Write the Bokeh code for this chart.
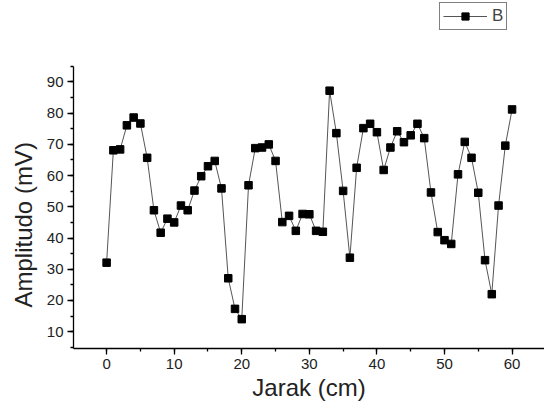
from bokeh.plotting import figure
from bokeh.models import Range1d, SingleIntervalTicker, Legend, LegendItem, Title
from bokeh.embed import file_html
from bokeh.resources import INLINE

# Data
jarak = list(range(0, 61))
amplitudo = [32.1, 68.1, 68.4, 76.1, 78.6, 76.7, 65.7, 48.9, 41.7, 46.2,
             45.0, 50.4, 48.9, 55.2, 59.8, 63.0, 64.7, 55.9, 27.1, 17.3,
             14.0, 56.9, 68.8, 69.0, 70.0, 64.7, 45.1, 47.1, 42.3, 47.7,
             47.6, 42.3, 42.0, 87.2, 73.6, 55.1, 33.7, 62.5, 75.2, 76.6,
             73.9, 61.8, 69.0, 74.2, 70.7, 72.9, 76.6, 72.0, 54.6, 41.9,
             39.3, 38.1, 60.4, 70.8, 65.7, 54.5, 32.9, 22.0, 50.4, 69.6,
             81.2]
series_name = "B"
x_title = "Jarak (cm)"
y_title = "Amplitudo (mV)"

FONT = "Liberation Sans"

# frame reaches the top of the canvas so the legend (drawn inside the frame)
# can sit above the end of the y axis; the y axis is limited with bounds
p = figure(width=544, height=403, output_backend="svg", toolbar_location=None,
           x_range=Range1d(-4.9, 64.8), y_range=Range1d(4.6, 116.1),
           min_border_left=73, min_border_top=0, min_border_right=0,
           min_border_bottom=54)
p.outline_line_color = None
p.xgrid.visible = False
p.ygrid.visible = False

ln = p.line(jarak, amplitudo, line_color="#555555", line_width=1)
sc = p.scatter(jarak, amplitudo, marker="square", size=7.5,
               fill_color="black", line_color="black")

for ax in (p.xaxis[0], p.yaxis[0]):
    ax.ticker = SingleIntervalTicker(interval=10, num_minor_ticks=2)
    ax.major_tick_out = 6
    ax.major_tick_in = 0
    ax.minor_tick_out = 3
    ax.minor_tick_in = 0
    ax.axis_line_color = "black"
    ax.axis_line_width = 1.3
    ax.major_tick_line_width = 1.3
    ax.minor_tick_line_width = 1.3
    ax.major_label_text_font = FONT
    ax.major_label_text_font_size = "15px"
    ax.major_label_text_color = "#222222"
    ax.axis_label_text_font = FONT
    ax.axis_label_text_font_size = "24px"
    ax.axis_label_text_font_style = "normal"
    ax.axis_label_text_color = "#222222"

p.yaxis.bounds = (4.6, 95.0)
p.xaxis.axis_label = x_title
p.xaxis.major_label_standoff = 4
p.xaxis.axis_label_standoff = 2
p.yaxis.major_label_standoff = 4

ytitle = Title(text=y_title, align="left", offset=41,
               text_font=FONT, text_font_size="24px", text_font_style="normal",
               text_color="#222222", standoff=14)
p.add_layout(ytitle, "left")

legend = Legend(items=[LegendItem(label=series_name, renderers=[ln, sc])],
                location=(366, 318), glyph_width=44, glyph_height=18,
                padding=3, margin=0, label_standoff=5, spacing=0,
                label_width=10, label_height=18,
                label_text_font=FONT, label_text_font_size="17px",
                border_line_color="black", border_line_width=1)
p.add_layout(legend, "center")

open("out.html", "w").write(file_html(p, INLINE))
